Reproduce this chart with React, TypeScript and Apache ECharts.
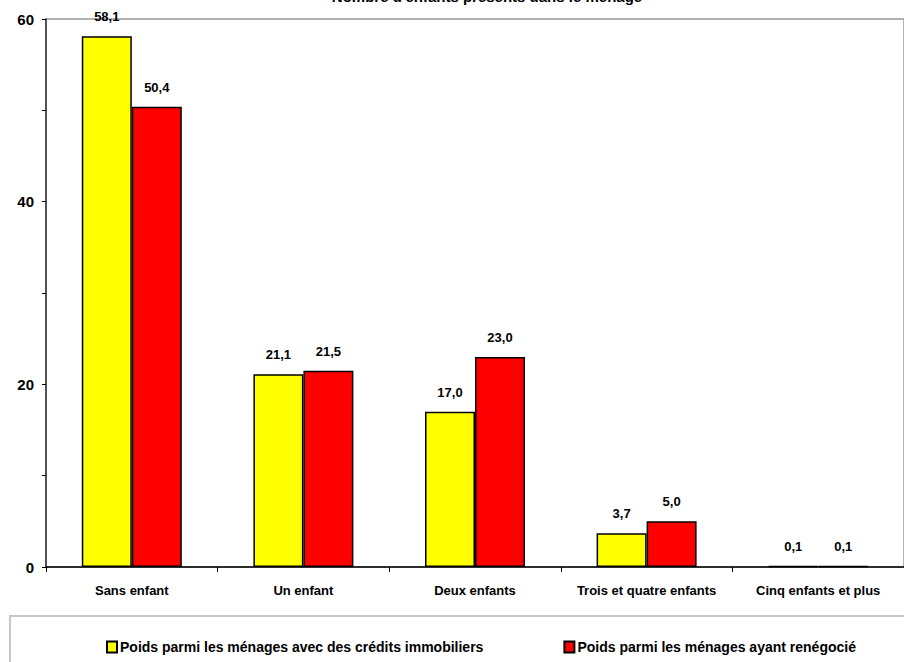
import React, { useEffect, useRef } from "react";
import * as echarts from "echarts";

// Number of children living in the household
const categories = [
  "Sans enfant",
  "Un enfant",
  "Deux enfants",
  "Trois et quatre enfants",
  "Cinq enfants et plus",
];
const seriesNames = [
  "Poids parmi les ménages avec des crédits immobiliers",
  "Poids parmi les ménages ayant renégocié",
];
const creditValues = [58.1, 21.1, 17.0, 3.7, 0.1];
const renegotiatedValues = [50.4, 21.5, 23.0, 5.0, 0.1];
const yTicks = [0, 20, 40, 60];
const titleText = "Nombre d'enfants présents dans le ménage";

const FONT = "'Liberation Sans', Arial, sans-serif";

const fmt = (v: number) => v.toFixed(1).replace(".", ",");

export default function App() {
  const ref = useRef<HTMLDivElement>(null);

  useEffect(() => {
    if (!ref.current) return;
    const chart = echarts.init(ref.current, undefined, { renderer: "svg" });

    const labelStyle = {
      show: true,
      position: "top" as const,
      distance: 13,
      fontFamily: FONT,
      fontWeight: "bold" as const,
      fontSize: 13,
      color: "#000",
      formatter: (p: any) => fmt(p.value),
    };

    chart.setOption({
      animation: false,
      backgroundColor: "#fff",
      textStyle: { fontFamily: FONT },
      grid: {
        left: 46,
        top: 19,
        width: 865,
        bottom: 95,
        show: true,
        borderColor: "#9a9a9a",
        borderWidth: 1.5,
        containLabel: false,
      },
      legend: {
        left: 101,
        top: 635,
        width: 850,
        itemGap: 80,
        itemWidth: 10,
        itemHeight: 11,
        icon: "rect",
        textStyle: {
          fontFamily: FONT,
          fontWeight: "bold",
          fontSize: 14,
          color: "#000",
          padding: [0, 0, 0, -2],
        },
        data: seriesNames,
      },
      graphic: [
        {
          type: "rect",
          shape: { x: 10, y: 616, width: 940, height: 80 },
          style: { fill: "none", stroke: "#c8c8c8", lineWidth: 2 },
          silent: true,
          z: -1,
        },
        {
          type: "text",
          x: 487,
          y: 4,
          style: {
            text: titleText,
            fontFamily: FONT,
            fontWeight: "bold",
            fontSize: 15,
            fill: "#000",
            align: "center",
            verticalAlign: "bottom",
          },
        },
      ],
      xAxis: {
        type: "category",
        data: categories,
        axisLine: { lineStyle: { color: "#000", width: 1.5 } },
        axisTick: { show: true, length: 5, lineStyle: { color: "#000", width: 1 } },
        axisLabel: {
          interval: 0,
          margin: 17,
          fontFamily: FONT,
          fontWeight: "bold",
          fontSize: 13,
          color: "#000",
        },
      },
      yAxis: {
        type: "value",
        min: 0,
        max: 60,
        interval: 20,
        axisLine: { show: true, lineStyle: { color: "#333", width: 1.5 } },
        axisTick: { show: true, length: 4, lineStyle: { color: "#000", width: 1 } },
        minorTick: { show: true, splitNumber: 2, length: 4, lineStyle: { color: "#000", width: 1 } },
        splitLine: { show: false },
        axisLabel: {
          margin: 12,
          fontFamily: FONT,
          fontWeight: "bold",
          fontSize: 15,
          color: "#000",
          formatter: (v: number) => (yTicks.includes(v) ? String(v) : ""),
        },
      },
      series: [
        {
          name: seriesNames[0],
          type: "bar",
          data: creditValues,
          barWidth: 50,
          barGap: "0%",
          itemStyle: { color: "#FFFF00", borderColor: "#000", borderWidth: 1.5 },
          label: labelStyle,
        },
        {
          name: seriesNames[1],
          type: "bar",
          data: renegotiatedValues,
          barWidth: 50,
          barGap: "0%",
          itemStyle: { color: "#FF0000", borderColor: "#000", borderWidth: 1.5 },
          label: labelStyle,
        },
      ],
    });

    return () => chart.dispose();
  }, []);

  return (
    <div
      ref={ref}
      style={{ position: "fixed", left: 0, top: 0, width: 904, height: 662, background: "#fff" }}
    />
  );
}
